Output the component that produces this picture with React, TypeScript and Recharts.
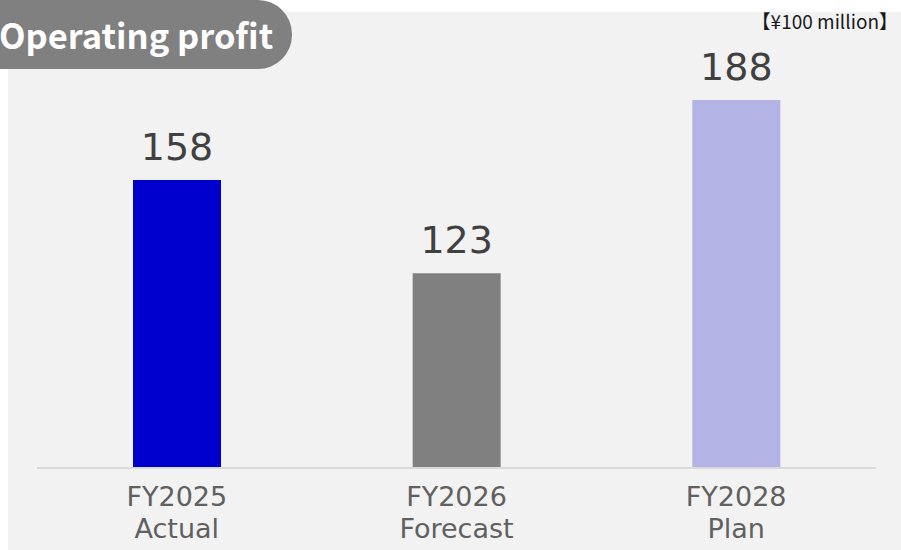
import { BarChart, Bar, XAxis, YAxis, Cell, LabelList } from 'recharts';

const years = ['FY2025', 'FY2026', 'FY2028'];
const kinds = ['Actual', 'Forecast', 'Plan'];
const profit = [158, 123, 188];
const barColors = ['#0000cc', '#808080', '#b3b3e6'];

const FONT = '"Noto Sans CJK JP", "Noto Sans", sans-serif';
const NUM_FONT = '"DejaVu Sans", "Noto Sans", sans-serif';

const data = years.map((y, i) => ({ name: y, sub: kinds[i], value: profit[i] }));

function TwoLineTick(props: any) {
    const { x, y, payload, index } = props;
    return (
        <g>
            <text x={x} y={y + 30} textAnchor="middle" fill="#606060" fontSize={27} fontFamily={NUM_FONT}>
                {payload.value}
            </text>
            <text x={x} y={y + 62} textAnchor="middle" fill="#606060" fontSize={27} fontFamily={NUM_FONT}>
                {kinds[index]}
            </text>
        </g>
    );
}

export default function App() {
    return (
        <div style={{ position: 'absolute', left: 0, top: 0, width: 901, height: 550, background: '#fff', overflow: 'hidden', fontFamily: FONT }}>
            <div style={{ position: 'absolute', left: 8, top: 12, width: 893, height: 538, background: '#f2f2f2' }} />
            <div
                style={{
                    position: 'absolute', left: -40, top: 0, width: 332, height: 69,
                    background: '#808080', borderRadius: '0 34px 34px 0',
                }}
            />
            <div style={{ position: 'absolute', left: -1, top: 12, color: '#fff', fontSize: 34.5, fontWeight: 700, lineHeight: '44px', whiteSpace: 'nowrap' }}>
                Operating profit
            </div>
            <div style={{ position: 'absolute', right: 3, top: 7, color: '#1a1a1a', fontSize: 19, lineHeight: '28px', whiteSpace: 'nowrap' }}>
                【¥100 million】
            </div>
            <div style={{ position: 'absolute', left: 0, top: 0 }}>
                <BarChart width={901} height={550} data={data} margin={{ top: 68, right: 25, bottom: 2, left: 37 }}>
                    <XAxis
                        dataKey="name"
                        height={80}
                        tickLine={false}
                        axisLine={{ stroke: '#d9d9d9', strokeWidth: 2 }}
                        tick={<TwoLineTick />}
                        interval={0}
                    />
                    <YAxis hide domain={[50, 200]} />
                    <Bar dataKey="value" barSize={88} isAnimationActive={false}>
                        {data.map((d, i) => (
                            <Cell key={d.name} fill={barColors[i]} />
                        ))}
                        <LabelList dataKey="value" position="top" offset={20} fill="#404040" fontSize={38} fontFamily={NUM_FONT} />
                    </Bar>
                </BarChart>
            </div>
        </div>
    );
}
